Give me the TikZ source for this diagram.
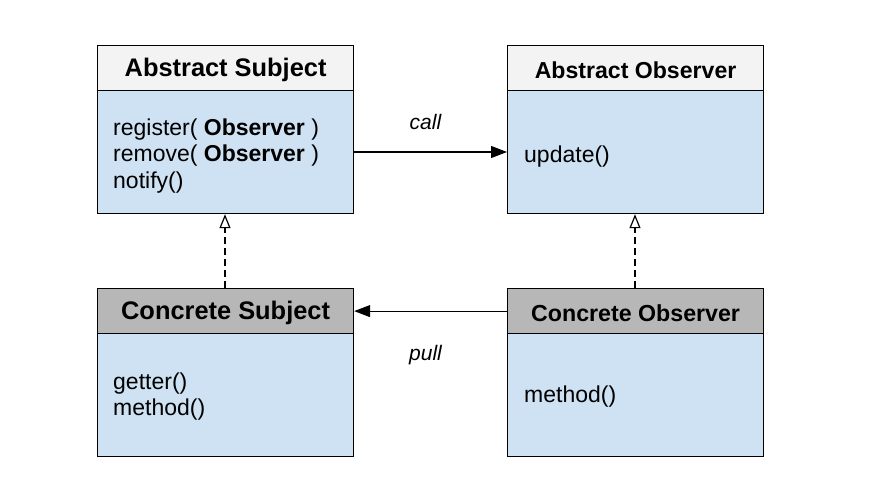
\documentclass[tikz,border=0pt]{standalone}
\usepackage{fontspec}
\setmainfont{Liberation Sans}
\usetikzlibrary{arrows.meta}
\definecolor{hdrlight}{HTML}{F3F3F3}
\definecolor{hdrdark}{HTML}{B7B7B7}
\definecolor{bodyblue}{HTML}{CFE2F3}
\tikzset{
  box/.style={draw=black, line width=1.2pt, rectangle, minimum width=256pt, anchor=north west, inner sep=0pt},
  hdr/.style={box, minimum height=45pt},
  bodybox/.style={box, fill=bodyblue, minimum height=123pt},
  txt/.style={anchor=west, inner sep=0pt, align=left, font=\fontsize{23}{26.5}\selectfont},
  lbl/.style={inner sep=0pt, font=\fontsize{21}{24}\selectfont\itshape},
  title/.style={inner sep=0pt, yshift=-2pt},
  assoc/.style={line width=1.2pt, -{Triangle[length=16pt,width=12pt]}},
  realize/.style={line width=1.2pt, dash pattern=on 7pt off 4pt, -{Triangle[open,length=14pt,width=11pt]}},
}
\begin{document}
\begin{tikzpicture}[x=1pt,y=-1pt]
\useasboundingbox (0,0) rectangle (894,500);
% Abstract Subject
\node[bodybox] (asb) at (97,90) {};
\node[hdr, fill=hdrlight] (ash) at (97,45) {};
\node[title, font=\fontsize{25.4}{28}\selectfont\bfseries] at (ash.center) {Abstract Subject};
\node[txt] (ast) at (113,156) {register( \textbf{Observer} )\\remove( \textbf{Observer} )\\notify()};
% Abstract Observer
\node[bodybox] (aob) at (507,90) {};
\node[hdr, fill=hdrlight] (aoh) at (507,45) {};
\node[title, font=\fontsize{23.1}{26}\selectfont\bfseries] at (aoh.center) {Abstract Observer};
\node[txt] (aot) at (524,156.5) {update()};
% Concrete Subject
\node[bodybox] (csb) at (97,333) {};
\node[hdr, fill=hdrdark] (csh) at (97,288) {};
\node[title, font=\fontsize{25.4}{28}\selectfont\bfseries] at (csh.center) {Concrete Subject};
\node[txt] (cst) at (113,396.5) {getter()\\method()};
% Concrete Observer
\node[bodybox] (cob) at (507,333) {};
\node[hdr, fill=hdrdark] (coh) at (507,288) {};
\node[title, font=\fontsize{23.2}{26}\selectfont\bfseries] at (coh.center) {Concrete Observer};
\node[txt] (cot) at (524,396.5) {method()};
% connectors
\draw[assoc] (asb.east |- 0,152) -- (aob.west |- 0,152);
\node[lbl] (call) at (425.5,122) {call};
\draw[assoc] (coh.west) -- (csh.east);
\node[lbl] (pull) at (425.5,355) {pull};
\draw[realize] (csh.north -| 225,0) -- (asb.south -| 225,0);
\draw[realize] (coh.north -| 635,0) -- (aob.south -| 635,0);
\end{tikzpicture}
\end{document}
